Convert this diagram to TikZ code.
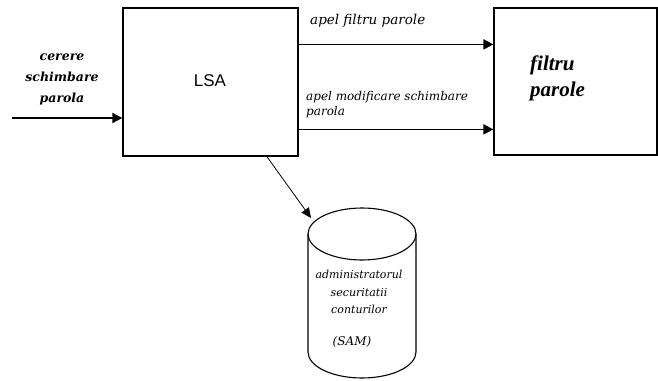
\documentclass[tikz,border=0pt]{standalone}
\usepackage{fontspec}
\setmainfont{DejaVu Serif}
\newfontfamily\lsafont{Liberation Sans}
\newfontfamily\boldserif{Liberation Serif}
\usetikzlibrary{arrows.meta,calc}
\begin{document}
\begin{tikzpicture}[x=1pt,y=-1pt,
  blockbox/.style={draw,line width=1.2pt,inner sep=0pt},
  flow/.style={line width=1.8pt,-{Triangle[length=10pt,width=10pt]}},
  thinflow/.style={line width=0.8pt,-{Triangle[length=10pt,width=9pt]}},
  lbl/.style={font=\itshape\fontsize{12}{13}\selectfont,inner sep=0pt,anchor=base west},
  biglbl/.style={font=\bfseries\itshape\fontsize{12.5}{21}\selectfont,align=center,inner sep=0pt}]
\useasboundingbox (0,0) rectangle (658,380);

% main blocks
\node[blockbox,minimum width=175pt,minimum height=148pt] (lsa) at (210.5,82) {};
\node[font=\lsafont\fontsize{17}{20}\selectfont] (lsatxt) at (210,81) {LSA};
\node[blockbox,minimum width=163pt,minimum height=147pt] (filtru) at (575.5,81.5) {};
\node[font=\boldserif\bfseries\itshape\fontsize{21}{26}\selectfont,align=left,anchor=west,inner sep=0pt] (filtrutxt) at (530,78) {filtru\\parole};

% incoming request
\coordinate (src) at (12,118);
\node[biglbl] (req) at (62,79) {cerere\\schimbare\\parola};
\draw[flow] (src) -- (src -| lsa.west);

% calls towards the password filter
\draw[flow] ($(lsa.north east)+(0,37)$) -- ($(filtru.north west)+(0,37)$);
\draw[flow] ($(lsa.north east)+(0,122)$) -- ($(filtru.north west)+(0,122)$);
\node[lbl,font=\itshape\fontsize{13.5}{15}\selectfont] (call1) at (310,24) {apel filtru parole};
\node[lbl] (call2) at (306,100) {apel modificare schimbare};
\node[lbl] (call3) at (306,115) {parola};

% SAM database cylinder
\draw[line width=1.1pt] (362,234) ellipse [x radius=54pt, y radius=26pt];
\draw[line width=1.1pt] (308,234) -- (308,352)
  arc[start angle=180,end angle=360,x radius=54pt,y radius=26pt] -- (416,234);
\node[font=\itshape\fontsize{11}{17.5}\selectfont,align=center,inner sep=0pt] (sam) at (359,292)
  {administratorul\\securitatii\\conturilor};
\node[font=\itshape\fontsize{12}{14}\selectfont,inner sep=0pt] (samabbr) at (352,342) {(SAM)};
\coordinate (samin) at (311,218);
\draw[thinflow] ($(lsa.south west)!0.82!(lsa.south east)$) -- (samin);
\end{tikzpicture}
\end{document}
